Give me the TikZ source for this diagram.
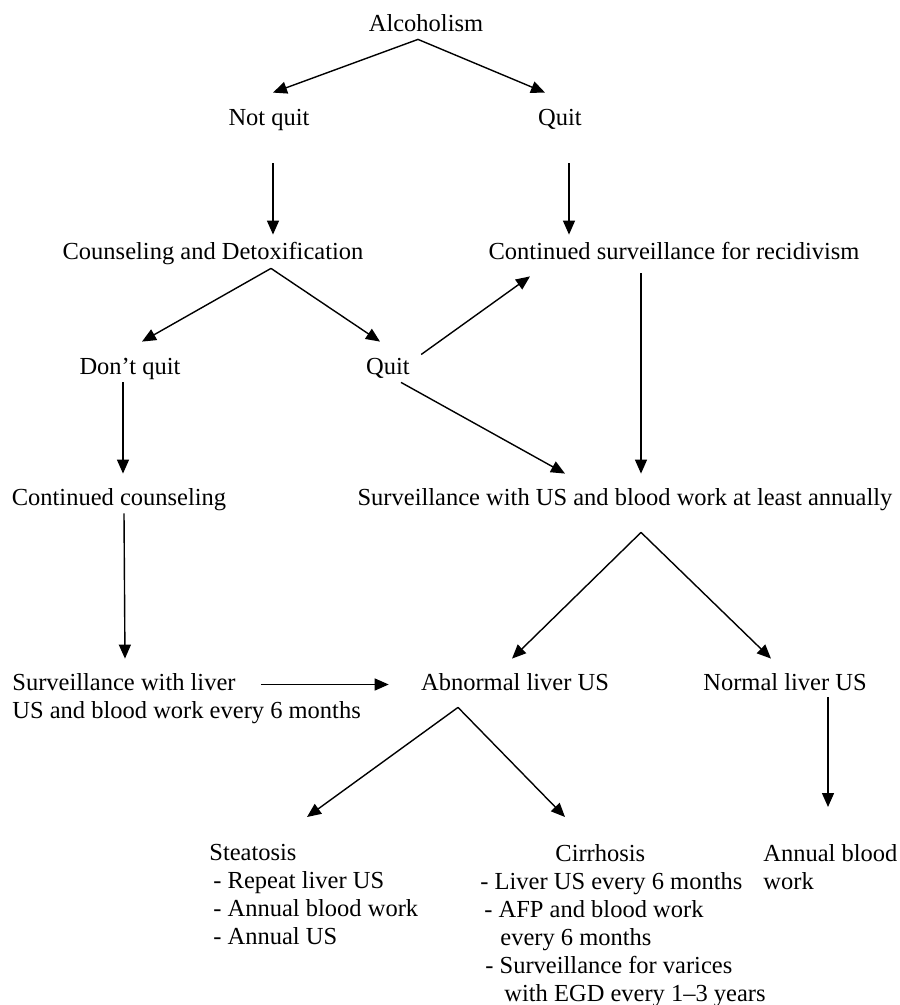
\documentclass[tikz,border=0pt]{standalone}
\usepackage{fontspec}
\setmainfont{Liberation Serif}
\usetikzlibrary{arrows.meta}
\tikzstyle{lbl}=[inner sep=0pt, anchor=base, text height=8.5pt, text depth=3pt, font=\fontsize{12.25}{14}\selectfont]
\tikzstyle{block}=[inner sep=0pt, anchor=north west, align=left, font=\fontsize{12.25}{14}\selectfont]
\tikzstyle{arrow}=[draw=black, line width=0.7pt, -{Triangle[length=7pt,width=6pt]}]
\begin{document}
\begin{tikzpicture}[x=0.5pt,y=-0.5pt]
	\useasboundingbox (0,0) rectangle (899,1005);
	\begin{scope}
		\node (alc) at (426,32)[lbl] {Alcoholism};
		\node (nq) at (269,126)[lbl] {Not quit};
		\node (q1) at (560,126)[lbl] {Quit};

		\node (cd) at (213,260)[lbl] {Counseling and Detoxification};
		\node (cs) at (674,260)[lbl] {Continued surveillance for recidivism};
		\node (dq) at (130,374)[lbl] {Don’t quit};
		\node (q2) at (388,374)[lbl] {Quit};

		\node (cc) at (119,505)[lbl] {Continued counseling};
		\node (su) at (625,505)[lbl] {Surveillance with US and blood work at least annually};
		\node (sl1) at (12,690)[lbl, anchor=base west] {Surveillance with liver};
		\node (sl2) at (12,718)[lbl, anchor=base west] {US and blood work every 6 months};
		\node (ab) at (515,690)[lbl] {Abnormal liver US};
		\node (nl) at (785,690)[lbl] {Normal liver US};

		\node (st) at (209,844)[block] {Steatosis\\\hspace*{2pt}- Repeat liver US\\\hspace*{2pt}- Annual blood work\\\hspace*{2pt}- Annual US};
		\node (ci) at (480,844)[block] {\hspace*{37.5pt}Cirrhosis\\- Liver US every 6 months\\\hspace*{2pt}- AFP and blood work\\\hspace*{10pt}every 6 months\\\hspace*{2.5pt}- Surveillance for varices\\\hspace*{12pt}with EGD every 1–3 years};
		\node (an) at (763,844)[block] {Annual blood\\work};

		\coordinate (alcfork) at ([shift={(-8,1)}]alc.south);
		\coordinate (cdfork) at ([shift={(58,2)}]cd.south);
		\coordinate (sufork) at ([shift={(16,21)}]su.south);
		\coordinate (abfork) at ([shift={(-57,11)}]ab.south);
	\end{scope}
	\begin{scope}
		\draw [arrow] (alcfork) -- ([shift={(4,-16)}]nq.north);
		\draw [arrow] (alcfork) -- ([shift={(-15,-16)}]q1.north);
		\draw [arrow] ([shift={(4,31)}]nq.south) -- ([shift={(60,-8)}]cd.north);
		\draw [arrow] ([shift={(9,31)}]q1.south) -- ([shift={(-105,-8)}]cs.north);

		\draw [arrow] (cdfork) -- ([shift={(12,-15)}]dq.north);
		\draw [arrow] (cdfork) -- ([shift={(-8,-15)}]q2.north);
		\draw [arrow] ([shift={(11,-14)}]q2.east) -- ([shift={(-144,10)}]cs.south);
		\draw [arrow] ([shift={(13,2)}]q2.south) -- ([shift={(-60,-14)}]su.north);
		\draw [arrow] ([shift={(-33,7)}]cs.south) -- ([shift={(16,-14)}]su.north);
		\draw [arrow] ([shift={(-7,2)}]dq.south) -- ([shift={(4,-14)}]cc.north);

		\draw [arrow] ([shift={(5,2)}]cc.south) -- ([shift={(1,-14)}]sl1.north);
		\draw [arrow] ([shift={(25,0)}]sl1.east) -- ([shift={(-32,0)}]ab.west);
		\draw [arrow] (sufork) -- ([shift={(-3,-14)}]ab.north);
		\draw [arrow] (sufork) -- ([shift={(-14,-14)}]nl.north);

		\draw [arrow] ([shift={(43,1)}]nl.south) -- ([shift={(65,-37)}]an.north west);
		\draw [arrow] (abfork) -- ([shift={(98,-27)}]st.north west);
		\draw [arrow] (abfork) -- ([shift={(85,-27)}]ci.north west);
	\end{scope}
\end{tikzpicture}
\end{document}
